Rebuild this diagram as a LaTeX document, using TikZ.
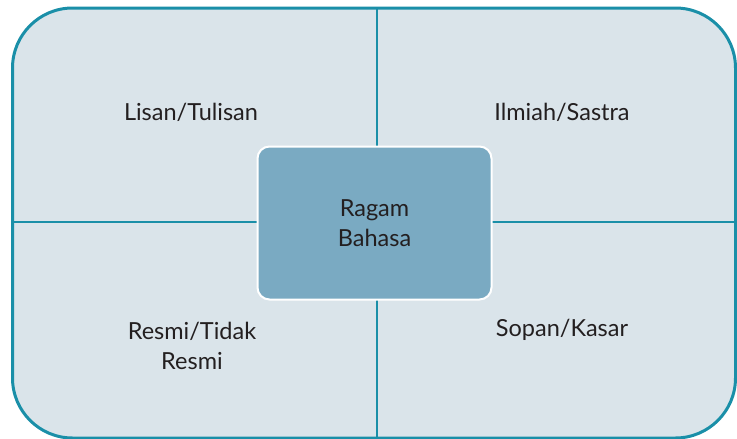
\documentclass[tikz,border=0pt]{standalone}
\usepackage{fontspec}
\setmainfont{Lato}
\definecolor{teal1}{HTML}{1A8FA8}
\definecolor{outerfill}{HTML}{DAE4EA}
\definecolor{innerfill}{HTML}{7AAAC2}
\definecolor{txt}{HTML}{231F20}
\begin{document}
\begin{tikzpicture}[x=1pt,y=-1pt,
  lbl/.style={font=\fontsize{23.5}{30}\selectfont, text=txt, align=center},
  divline/.style={draw=teal1, line width=2pt}]
\useasboundingbox (0,0) rectangle (737,439);
\node[draw=teal1, line width=3pt, fill=outerfill, rounded corners=60pt,
  minimum width=723pt, minimum height=430pt, inner sep=0pt] (outer) at (374,223) {};
\coordinate (top) at (377,8);
\coordinate (bot) at (377,438);
\coordinate (lft) at (13,222);
\coordinate (rgt) at (735,222);
\draw[divline] (top) -- (bot);
\draw[divline] (lft) -- (rgt);
\node[draw=white, line width=2pt, fill=innerfill, rounded corners=12pt,
  minimum width=234pt, minimum height=153pt, inner sep=0pt, lbl] (center) at (374.5,223) {Ragam\\Bahasa};
\node[lbl] (q1) at (191,112) {Lisan/Tulisan};
\node[lbl] (q2) at (562,112) {Ilmiah/Sastra};
\node[lbl] (q3) at (192,346) {Resmi/Tidak\\Resmi};
\node[lbl] (q4) at (562,330) {Sopan/Kasar};
\end{tikzpicture}
\end{document}
